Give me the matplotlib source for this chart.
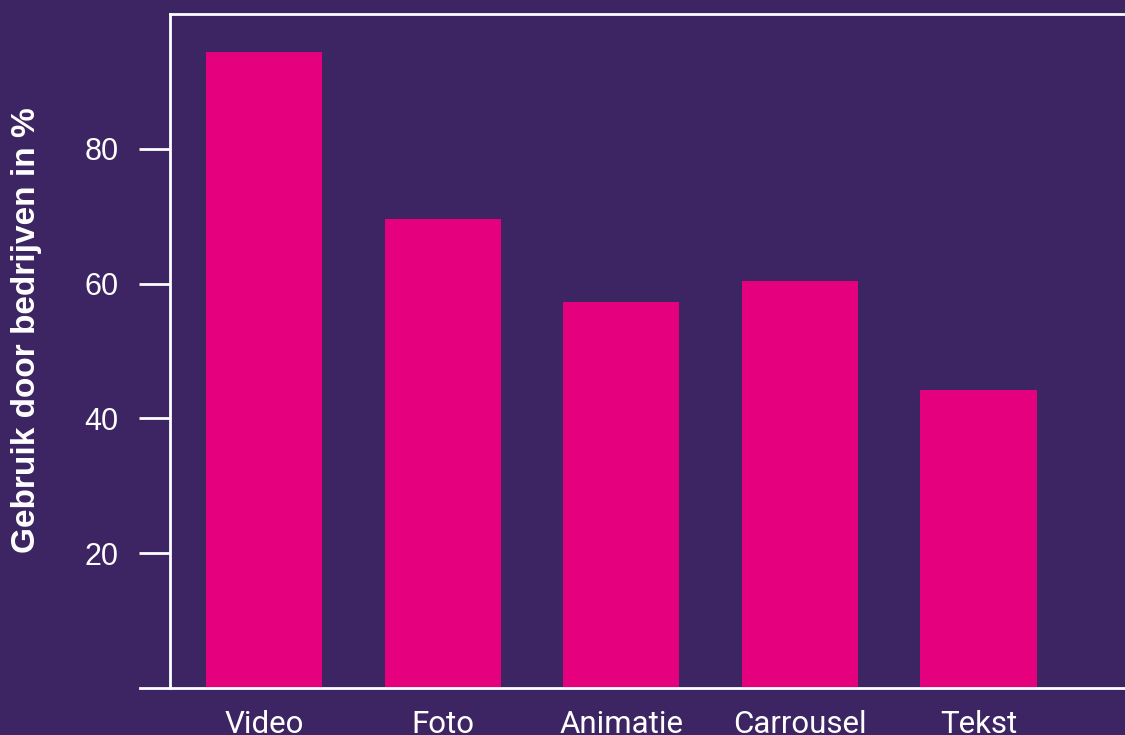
import matplotlib.pyplot as plt
from matplotlib.lines import Line2D

categories = ['Video', 'Foto', 'Animatie', 'Carrousel', 'Tekst']
values = [94.4, 69.6, 57.2, 60.4, 44.2]
yticks = [20, 40, 60, 80]

bg = '#3d2463'
bar_color = '#e5007e'

fig = plt.figure(figsize=(11.25, 7.35), dpi=100, facecolor=bg)
ax = fig.add_axes([170 / 1125, 47 / 735, (1125 - 170) / 1125, (688 - 14) / 735])
ax.set_facecolor(bg)

ax.bar(range(len(categories)), values, width=0.65, color=bar_color)

ax.set_xlim(-0.527, 4.82)
ax.set_ylim(0, 100)

ax.set_yticks(yticks)
ax.set_yticklabels([str(v) for v in yticks], fontsize=22, family='Liberation Sans', color='white')
ax.tick_params(axis='y', length=22, width=2, color='white', pad=15)

ax.set_xticks(range(len(categories)))
ax.set_xticklabels(categories, fontsize=22.5, family='Roboto', color='white')
ax.tick_params(axis='x', length=0, pad=16)

ax.spines['right'].set_visible(False)
ax.spines['bottom'].set_visible(False)
for s in ['left', 'top']:
    ax.spines[s].set_color('white')
    ax.spines[s].set_linewidth(2)

# bottom line sticks out a bit past the left spine
ax.add_line(Line2D([-30 / 955, 1.0], [0, 0], transform=ax.transAxes,
                   color='white', linewidth=2, clip_on=False))

fig.text(27 / 1125, 1 - 330 / 735, 'Gebruik door bedrijven in %', rotation=90,
         fontsize=24, fontweight='bold', family='Liberation Sans', color='white',
         ha='center', va='center')

fig.savefig('out.png', dpi=100, facecolor=bg)
